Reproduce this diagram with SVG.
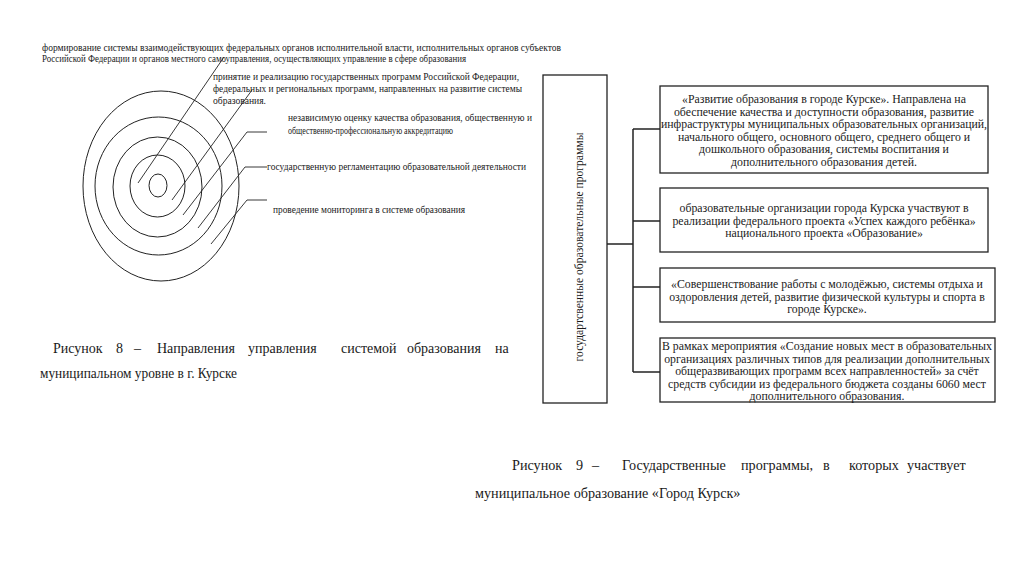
<svg xmlns="http://www.w3.org/2000/svg" width="1024" height="574" viewBox="0 0 1024 574">
<style>
text{font-family:"Liberation Serif","Times New Roman",serif;fill:#1a1a1a}
.lbl{font-size:9.6px}
.box{fill:#fff;stroke:#222;stroke-width:1.3}
.bt{font-size:11.8px;text-anchor:middle}
.cap{font-size:14px}
.cap9{font-size:14.2px}
.ring{fill:none;stroke:#222;stroke-width:1}
.ln{fill:none;stroke:#222;stroke-width:0.9}
.con{fill:none;stroke:#222;stroke-width:1.5}
</style>
<rect width="1024" height="574" fill="#fff"/>

<g id="rings">
<ellipse class="ring" cx="161" cy="186" rx="78" ry="95"/>
<ellipse class="ring" cx="158.5" cy="186" rx="63.5" ry="69"/>
<ellipse class="ring" cx="157.5" cy="187" rx="44.5" ry="50"/>
<ellipse class="ring" cx="157.5" cy="186" rx="27.5" ry="31"/>
<ellipse class="ring" cx="158" cy="185.5" rx="9" ry="11.5"/>
</g>

<g id="pointers">
<polyline class="ln" points="138,183 224,57"/>
<polyline class="ln" points="172,200 252,90"/>
<polyline class="ln" points="183,215 247,132 267,132"/>
<polyline class="ln" points="198,228 245,167 267,167"/>
<polyline class="ln" points="211,244 247,200 267,200"/>
</g>

<g id="labels-left">
<text class="lbl" x="42" y="51" textLength="519" lengthAdjust="spacingAndGlyphs">формирование системы взаимодействующих федеральных органов исполнительной власти, исполнительных органов субъектов</text>
<text class="lbl" x="42" y="62" textLength="424" lengthAdjust="spacingAndGlyphs">Российской Федерации и органов местного самоуправления, осуществляющих управление в сфере образования</text>
<text class="lbl" x="213" y="80" textLength="306" lengthAdjust="spacingAndGlyphs">принятие и реализацию государственных программ Российской Федерации,</text>
<text class="lbl" x="213" y="92" textLength="309" lengthAdjust="spacingAndGlyphs">федеральных и региональных программ, направленных на развитие системы</text>
<text class="lbl" x="213" y="104">образования.</text>
<text class="lbl" x="288" y="121" textLength="244" lengthAdjust="spacingAndGlyphs">независимую оценку качества образования, общественную и</text>
<text class="lbl" x="288" y="134" textLength="165" lengthAdjust="spacingAndGlyphs">общественно-профессиональную аккредитацию</text>
<text class="lbl" x="267" y="170" textLength="259" lengthAdjust="spacingAndGlyphs">государственную регламентацию образовательной деятельности</text>
<text class="lbl" x="273" y="213" textLength="192" lengthAdjust="spacingAndGlyphs">проведение мониторинга в системе образования</text>
</g>

<g id="caption8">
<text class="cap" x="53" y="353">Рисунок</text>
<text class="cap" x="116" y="353">8</text>
<text class="cap" x="134" y="353">–</text>
<text class="cap" x="157" y="353">Направления</text>
<text class="cap" x="248" y="353">управления</text>
<text class="cap" x="341" y="353">системой</text>
<text class="cap" x="407" y="353">образования</text>
<text class="cap" x="495" y="353">на</text>
<text class="cap" x="40" y="378" textLength="197" lengthAdjust="spacingAndGlyphs">муниципальном уровне  в г. Курске</text>
</g>

<g id="root">
<rect class="box" x="543" y="75" width="64" height="328"/>
<text font-size="11.6" text-anchor="middle" transform="translate(583,247) rotate(-90)">государтсвенные  образовательные программы</text>
</g>

<g id="connectors">
<polyline class="con" points="607,244 633,244"/>
<polyline class="con" points="633,129 633,372"/>
<polyline class="con" points="633,129 660,129"/>
<polyline class="con" points="633,221 660,221"/>
<polyline class="con" points="633,287 660,287"/>
<polyline class="con" points="633,372 660,372"/>
</g>

<g id="prog1">
<rect class="box" x="660" y="86" width="328" height="87"/>
<text class="bt" x="824" y="103">«Развитие образования в городе Курске». Направлена на</text>
<text class="bt" x="824" y="115.6">обеспечение качества и доступности образования, развитие</text>
<text class="bt" x="824" y="128.2" textLength="326" lengthAdjust="spacingAndGlyphs">инфраструктуры муниципальных образовательных организаций,</text>
<text class="bt" x="824" y="140.8">начального общего, основного общего, среднего общего и</text>
<text class="bt" x="824" y="153.4">дошкольного образования, системы воспитания и</text>
<text class="bt" x="824" y="166">дополнительного образования детей.</text>
</g>

<g id="prog2">
<rect class="box" x="660" y="188" width="328" height="64"/>
<text class="bt" x="824" y="212">образовательные организации города Курска участвуют в</text>
<text class="bt" x="824" y="225">реализации федерального проекта «Успех каждого ребёнка»</text>
<text class="bt" x="824" y="237">национального проекта «Образование»</text>
</g>

<g id="prog3">
<rect class="box" x="660" y="268" width="335" height="54"/>
<text class="bt" x="827" y="288">«Совершенствование работы с молодёжью, системы отдыха и</text>
<text class="bt" x="827" y="301">оздоровления детей, развитие физической культуры и спорта в</text>
<text class="bt" x="827" y="313">городе Курске».</text>
</g>

<g id="prog4">
<rect class="box" x="660" y="338" width="335" height="64"/>
<text class="bt" x="827" y="350" textLength="330" lengthAdjust="spacingAndGlyphs">В рамках мероприятия «Создание новых мест в образовательных</text>
<text class="bt" x="827" y="362.5">организациях различных типов для реализации дополнительных</text>
<text class="bt" x="827" y="375">общеразвивающих программ всех направленностей» за счёт</text>
<text class="bt" x="827" y="387.5">средств субсидии из федерального бюджета созданы 6060 мест</text>
<text class="bt" x="827" y="400">дополнительного образования.</text>
</g>

<g id="caption9">
<text class="cap9" x="512" y="470">Рисунок</text>
<text class="cap9" x="576" y="470">9</text>
<text class="cap9" x="592" y="470">–</text>
<text class="cap9" x="622" y="470">Государственные</text>
<text class="cap9" x="741" y="470">программы,</text>
<text class="cap9" x="823" y="470">в</text>
<text class="cap9" x="849" y="470">которых</text>
<text class="cap9" x="907" y="470">участвует</text>
<text class="cap9" x="475" y="498">муниципальное образование «Город Курск»</text>
</g>
</svg>
